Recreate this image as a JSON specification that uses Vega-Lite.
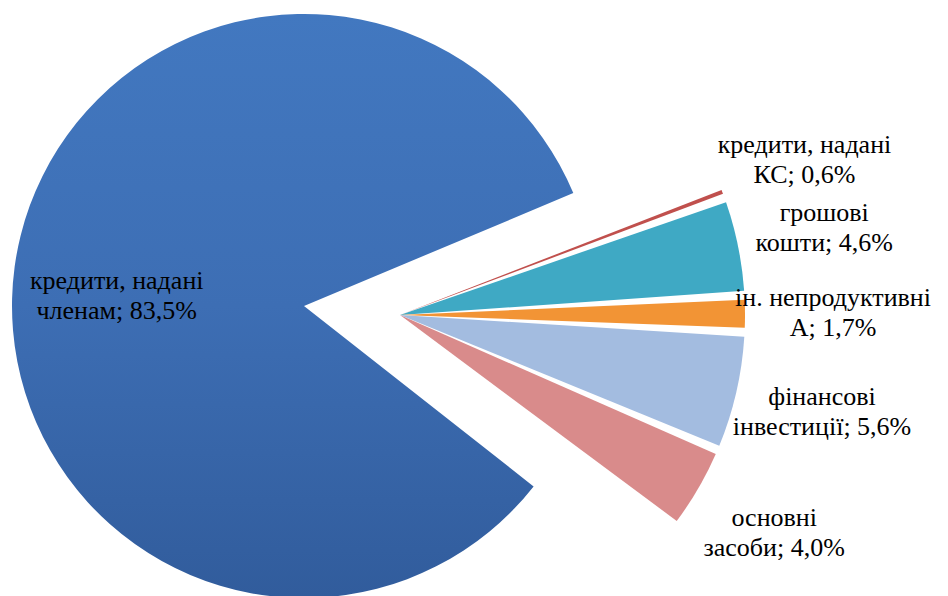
{
  "$schema": "https://vega.github.io/schema/vega-lite/v6.json",
  "width": 948,
  "height": 596,
  "padding": 0,
  "autosize": {"type": "none"},
  "background": "white",
  "config": {"view": {"stroke": null}},
  "data": {
    "values": [
      {"k": 1, "category": "кредити, надані КС", "value": 0.6, "group": "other", "label": "кредити, надані\nКС; 0,6%"},
      {"k": 2, "category": "грошові кошти", "value": 4.6, "group": "other", "label": "грошові\nкошти; 4,6%"},
      {"k": 3, "category": "ін. непродуктивні А", "value": 1.7, "group": "other", "label": "ін. непродуктивні\nА; 1,7%"},
      {"k": 4, "category": "фінансові інвестиції", "value": 5.6, "group": "other", "label": "фінансові\nінвестиції; 5,6%"},
      {"k": 5, "category": "основні засоби", "value": 4.0, "group": "other", "label": "основні\nзасоби; 4,0%"},
      {"k": 6, "category": "кредити, надані членам", "value": 83.5, "group": "main", "label": "кредити, надані\nчленам; 83,5%"}
    ]
  },
  "encoding": {
    "theta": {"field": "value", "type": "quantitative", "stack": true, "scale": {"range": [1.187, 7.470]}},
    "order": {"field": "k", "type": "quantitative"},
    "x": {"field": "group", "type": "nominal", "axis": null, "scale": {"type": "point", "domain": ["main", "other"], "range": [304, 400], "padding": 0}},
    "y": {"field": "group", "type": "nominal", "axis": null, "scale": {"type": "point", "domain": ["main", "other"], "range": [306, 315], "padding": 0}}
  },
  "layer": [
    {
      "mark": {
        "type": "arc", "padAngle": 0.026, "radius": 292,
        "fill": {"gradient": "linear", "x1": 0, "y1": 0, "x2": 0, "y2": 1, "stops": [{"offset": 0, "color": "#4278C0"}, {"offset": 0.5, "color": "#3D6EB4"}, {"offset": 1, "color": "#315C9C"}]}
      },
      "encoding": {
        "fillOpacity": {"condition": {"test": "datum.group === 'main'", "value": 1}, "value": 0}
      }
    },
    {
      "mark": {"type": "arc", "padAngle": 0.026, "radius": 345},
      "encoding": {
        "color": {
          "field": "category", "type": "nominal", "legend": null,
          "scale": {
            "domain": ["кредити, надані КС", "грошові кошти", "ін. непродуктивні А", "фінансові інвестиції", "основні засоби", "кредити, надані членам"],
            "range": ["#C0504D", "#3FA9C4", "#F29435", "#A3BCE0", "#D98B8B", "#3D6EB4"]
          }
        },
        "fillOpacity": {"condition": {"test": "datum.group === 'other'", "value": 1}, "value": 0}
      }
    },
    {
      "mark": {"type": "text", "font": "'Liberation Serif', 'Times New Roman', serif", "fontSize": 26, "lineHeight": 30, "lineBreak": "\n", "align": "center", "baseline": "middle", "radius": 433, "dy": -15, "color": "black"},
      "encoding": {
        "text": {"condition": {"test": "datum.group === 'other'", "field": "label"}, "value": ""}
      }
    },
    {
      "mark": {"type": "text", "font": "'Liberation Serif', 'Times New Roman', serif", "fontSize": 26, "lineHeight": 30, "lineBreak": "\n", "align": "center", "baseline": "middle", "radius": 189, "color": "black"},
      "encoding": {
        "text": {"condition": {"test": "datum.group === 'main'", "field": "label"}, "value": ""}
      }
    }
  ]
}
